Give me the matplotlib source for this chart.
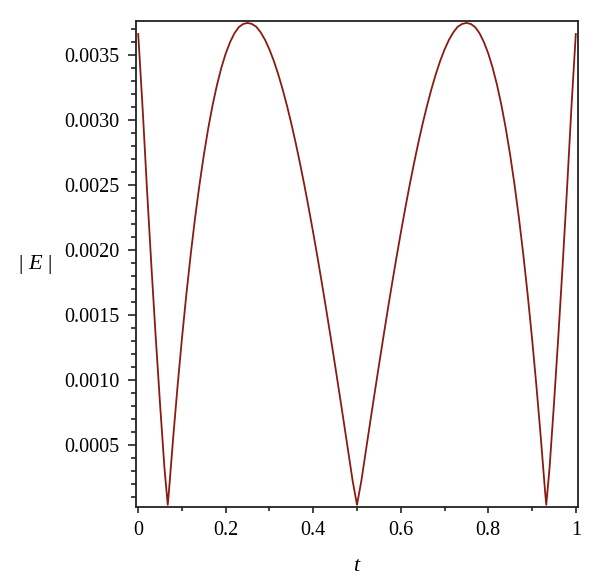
import matplotlib
matplotlib.use('Agg')
import matplotlib.pyplot as plt
from matplotlib.ticker import MultipleLocator, FixedLocator

# Error curve |E|
t_vals = [0.00, 0.01, 0.02, 0.03, 0.04, 0.05, 0.06, 0.0675, 0.07, 0.08, 0.09,
          0.10, 0.11, 0.12, 0.13, 0.14, 0.15, 0.16, 0.17, 0.18, 0.19,
          0.20, 0.21, 0.22, 0.23, 0.24, 0.25, 0.26, 0.27, 0.28, 0.29,
          0.30, 0.31, 0.32, 0.33, 0.34, 0.35, 0.36, 0.37, 0.38, 0.39,
          0.40, 0.41, 0.42, 0.43, 0.44, 0.45, 0.46, 0.47, 0.48, 0.49,
          0.50, 0.51, 0.52, 0.53, 0.54, 0.55, 0.56, 0.57, 0.58, 0.59,
          0.60, 0.61, 0.62, 0.63, 0.64, 0.65, 0.66, 0.67, 0.68, 0.69,
          0.70, 0.71, 0.72, 0.73, 0.74, 0.75, 0.76, 0.77, 0.78, 0.79,
          0.80, 0.81, 0.82, 0.83, 0.84, 0.85, 0.86, 0.87, 0.88, 0.89,
          0.90, 0.91, 0.92, 0.93, 0.9325, 0.94, 0.95, 0.96, 0.97, 0.98, 0.99, 1.00]
E_vals = [0.00366, 0.003093, 0.002471, 0.001884, 0.00133, 0.00081, 0.000322, 0.00004, 0.000134, 0.000559, 0.000954,
          0.00132, 0.001657, 0.001965, 0.002247, 0.002501, 0.00273, 0.002934, 0.003113, 0.003268, 0.0034,
          0.00351, 0.003598, 0.003666, 0.003713, 0.003737, 0.003745, 0.003737, 0.003715, 0.003672, 0.003614,
          0.00354, 0.003452, 0.00335, 0.003235, 0.003108, 0.00297, 0.002821, 0.002661, 0.002493, 0.002315,
          0.00213, 0.001938, 0.001739, 0.001534, 0.001324, 0.00111, 0.000892, 0.000672, 0.000449, 0.000225,
          0.00004, 0.000225, 0.000449, 0.000672, 0.000892, 0.00111, 0.001324, 0.001534, 0.001739, 0.001938,
          0.00213, 0.002315, 0.002493, 0.002661, 0.002821, 0.00297, 0.003108, 0.003235, 0.00335, 0.003452,
          0.00354, 0.003614, 0.003672, 0.003715, 0.003737, 0.003745, 0.003737, 0.003713, 0.003666, 0.003598,
          0.00351, 0.0034, 0.003268, 0.003113, 0.002934, 0.00273, 0.002501, 0.002247, 0.001965, 0.001657,
          0.00132, 0.000954, 0.000559, 0.000134, 0.00004, 0.000322, 0.00081, 0.00133, 0.001884, 0.002471, 0.003093, 0.00366]

x_major = [0, 0.2, 0.4, 0.6, 0.8, 1]
x_labels = ['0', '0.2', '0.4', '0.6', '0.8', '1']
y_major = [0.0005, 0.0010, 0.0015, 0.0020, 0.0025, 0.0030, 0.0035]
y_labels = ['0.0005', '0.0010', '0.0015', '0.0020', '0.0025', '0.0030', '0.0035']

plt.rcParams['font.family'] = ['Liberation Serif', 'DejaVu Serif']
plt.rcParams['mathtext.fontset'] = 'custom'
plt.rcParams['mathtext.rm'] = 'Liberation Serif'
plt.rcParams['mathtext.it'] = 'Liberation Serif:italic'

fig = plt.figure(figsize=(6.0, 5.86), dpi=100)
ax = fig.add_axes([0.2267, 0.1348, 0.7366, 0.8294])

ax.plot(t_vals, E_vals, color='#8a1a12', linewidth=1.3)

ax.set_xlim(-0.005, 1.005)
ax.set_ylim(0.000023, 0.00376)

ax.xaxis.set_major_locator(FixedLocator(x_major))
ax.set_xticklabels(x_labels)
ax.xaxis.set_minor_locator(MultipleLocator(0.1))
ax.yaxis.set_major_locator(FixedLocator(y_major))
ax.set_yticklabels(y_labels)
ax.yaxis.set_minor_locator(MultipleLocator(0.0001))

ax.tick_params(axis='both', which='both', direction='out', labelsize=14.5, width=1.2, color='#222222')
ax.tick_params(axis='y', which='major', length=6, pad=6)
ax.tick_params(axis='y', which='minor', length=3.5)
ax.tick_params(axis='x', which='major', length=4, pad=6)
ax.tick_params(axis='x', which='minor', length=3)

for side in ['left', 'bottom', 'top', 'right']:
    ax.spines[side].set_linewidth(1.3)
    ax.spines[side].set_color('#222222')

ax.set_xlabel(r'$t$', fontsize=16, labelpad=12)
ax.set_ylabel('| $E$ |', fontsize=16, rotation=0, ha='center', va='center')
ax.yaxis.set_label_coords(-0.228, 0.498)

fig.savefig('out.png', dpi=100)
